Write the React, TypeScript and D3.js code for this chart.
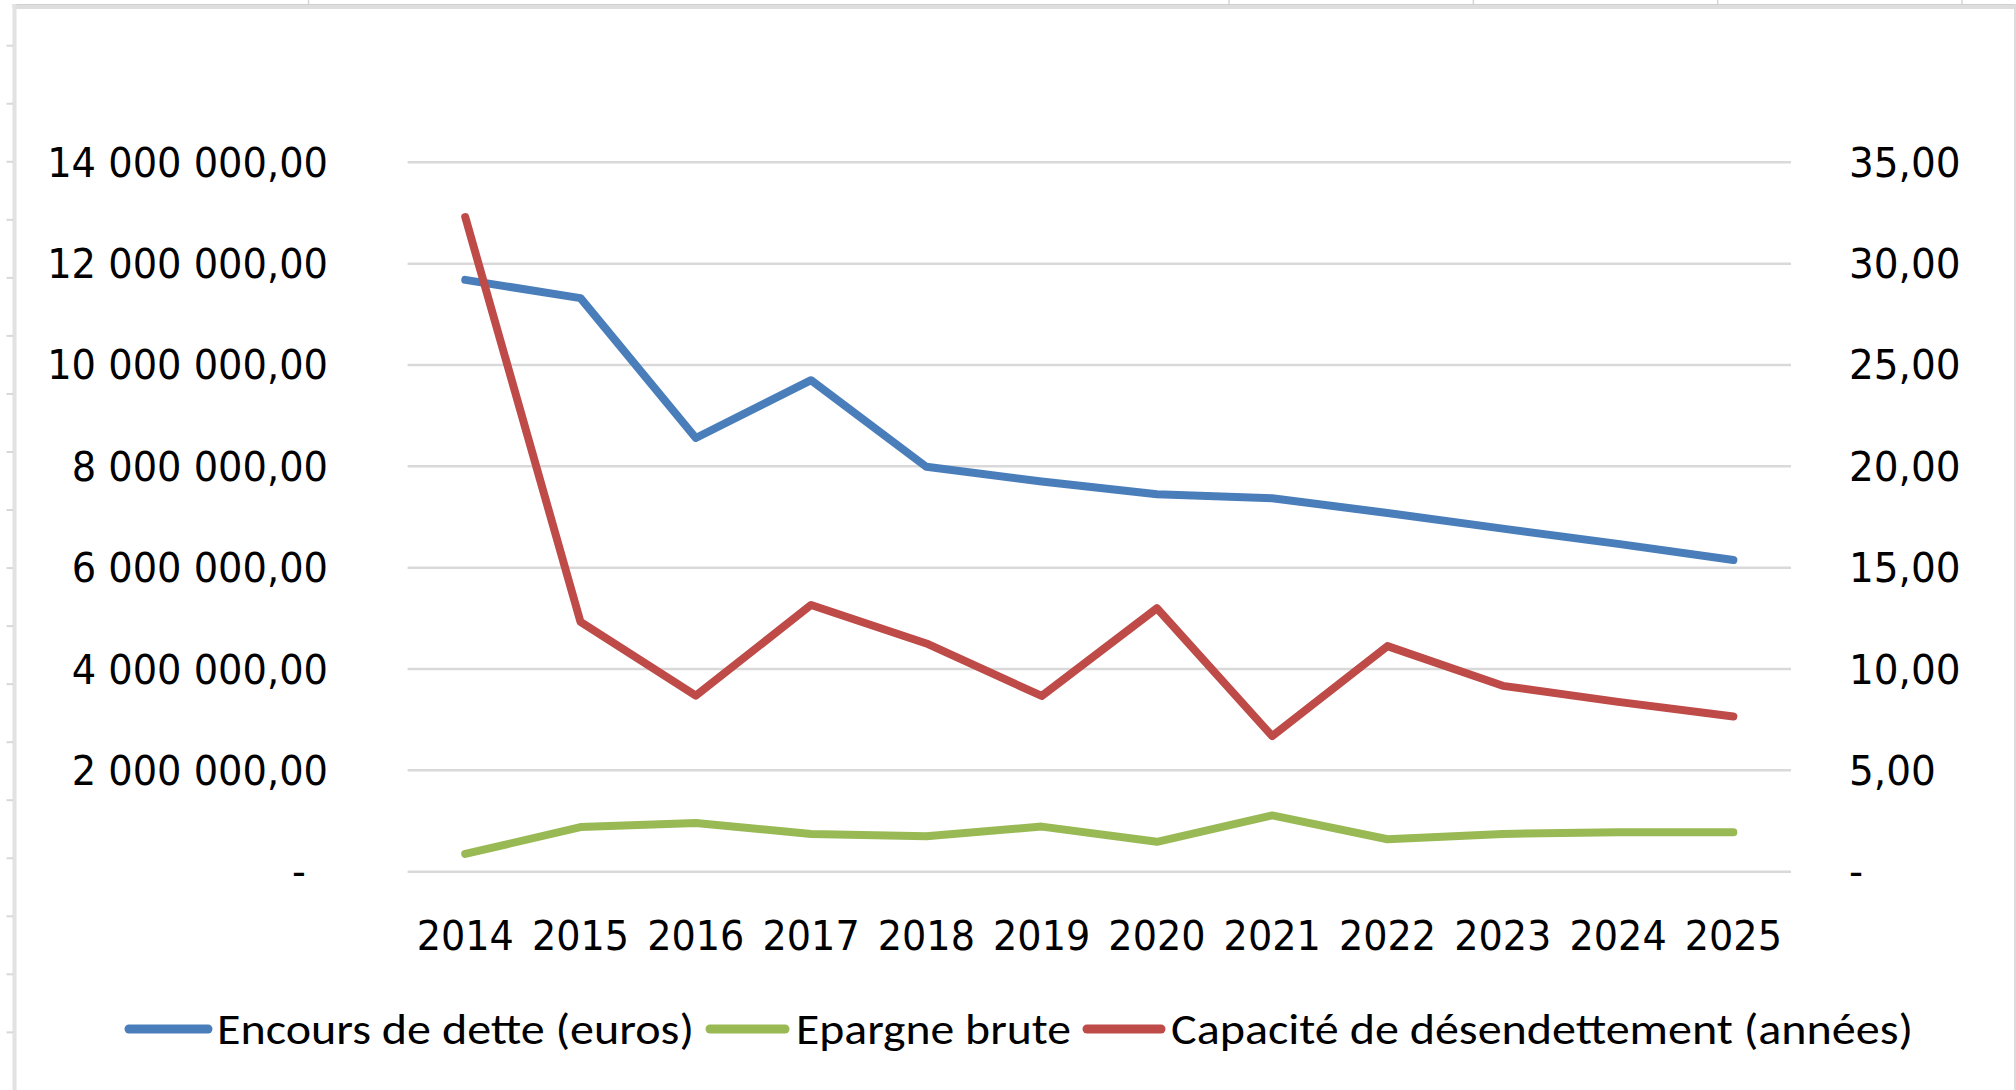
import React from "react";
import * as d3 from "d3";

const years = ["2014", "2015", "2016", "2017", "2018", "2019", "2020", "2021", "2022", "2023", "2024", "2025"];
const encoursDette = [11680000, 11320000, 8560000, 9700000, 7990000, 7700000, 7450000, 7370000, 7080000, 6770000, 6470000, 6150000];
const epargneBrute = [350000, 880000, 960000, 745000, 700000, 890000, 590000, 1110000, 640000, 745000, 780000, 780000];
const capaciteDesendettement = [32.3, 12.32, 8.69, 13.16, 11.26, 8.67, 13.0, 6.69, 11.13, 9.17, 8.38, 7.66];
const leftTicks = [0, 2000000, 4000000, 6000000, 8000000, 10000000, 12000000, 14000000];
const rightTicks = [0, 5, 10, 15, 20, 25, 30, 35];
const seriesNames = ["Encours de dette (euros)", "Epargne brute", "Capacité de désendettement (années)"];
const seriesColors = ["#4A7EBB", "#98B954", "#BE4B48"];

const W = 2016;
const H = 1090;
const PLOT = { left: 407.6, right: 1791, top: 162.3, bottom: 871.7 };

const fr = d3.formatLocale({ decimal: ",", thousands: " ", grouping: [3], currency: ["", " €"] });
const fmtLeft = fr.format(",.2f");
const fmtRight = fr.format(".2f");

export default function App() {
  const x = d3.scalePoint<string>().domain(years).range([PLOT.left, PLOT.right]).padding(0.5);
  const yL = d3.scaleLinear().domain([0, 14000000]).range([PLOT.bottom, PLOT.top]);
  const yR = d3.scaleLinear().domain([0, 35]).range([PLOT.bottom, PLOT.top]);

  const lineL = d3.line<number>().x((_, i) => x(years[i]) as number).y((d) => yL(d));
  const lineR = d3.line<number>().x((_, i) => x(years[i]) as number).y((d) => yR(d));

  const rowTicks = d3.range(45.7, H, 58.04);
  const colTicks = [308.5, 1229, 1473.4, 1717.7, 1962];

  const axisFont = "'DejaVu Sans', Verdana, sans-serif";
  const legendFont = "Carlito, 'Liberation Sans Narrow', 'Open Sans', sans-serif";

  const legendItems = [
    { x0: 125, x1: 212, tx: 217, tl: 477 },
    { x0: 706, x1: 789, tx: 796, tl: 275 },
    { x0: 1083, x1: 1165, tx: 1171, tl: 742 },
  ];

  return (
    <div style={{ position: "absolute", left: 0, top: 0, width: W, height: H, overflow: "hidden" }}>
      <svg width={W} height={H} style={{ display: "block", background: "#fff" }}>
        {/* spreadsheet frame */}
        <rect x={0} y={0} width={W} height={H} fill="#ffffff" />
        {colTicks.map((cx, i) => (
          <line key={"ct" + i} x1={cx} x2={cx} y1={0} y2={5} stroke="#d4d4d4" strokeWidth={1.5} />
        ))}
        <rect x={12.5} y={4} width={W - 12.5} height={5} fill="#dedede" />
        <line x1={12.5} x2={W} y1={4.5} y2={4.5} stroke="#d0d0d0" strokeWidth={1} />
        <rect x={12.5} y={4} width={4} height={H - 4} fill="#e2e2e2" />
        {rowTicks.map((ry, i) => (
          <line key={"rt" + i} x1={6.5} x2={13} y1={ry} y2={ry} stroke="#d8d8d8" strokeWidth={2} />
        ))}
        <line x1={2015} x2={2015} y1={4} y2={H} stroke="#dcdcdc" strokeWidth={2} />

        {/* gridlines */}
        {leftTicks.map((t) => (
          <line key={"g" + t} x1={PLOT.left} x2={PLOT.right} y1={yL(t)} y2={yL(t)} stroke="#d9d9d9" strokeWidth={2.5} />
        ))}

        {/* left axis labels */}
        {leftTicks.map((t) =>
          t === 0 ? (
            <text key={"l" + t} transform={`translate(${299},${yL(t) + 14.5}) scale(0.96,1)`} textAnchor="middle" fontFamily={axisFont} fontSize={40} fill="#000">-</text>
          ) : (
            <text key={"l" + t} transform={`translate(${328},${yL(t) + 14.5}) scale(0.96,1)`} textAnchor="end" fontFamily={axisFont} fontSize={40} fill="#000">
              {fmtLeft(t)}
            </text>
          )
        )}

        {/* right axis labels */}
        {rightTicks.map((t) => (
          <text key={"r" + t} transform={`translate(${1849},${yR(t) + 14.5}) scale(0.975,1)`} textAnchor="start" fontFamily={axisFont} fontSize={40} fill="#000">
            {t === 0 ? "-" : fmtRight(t)}
          </text>
        ))}

        {/* x axis labels */}
        {years.map((yr) => (
          <text key={"x" + yr} transform={`translate(${x(yr)},${950}) scale(0.955,1)`} textAnchor="middle" fontFamily={axisFont} fontSize={40} fill="#000">
            {yr}
          </text>
        ))}

        {/* series */}
        <path d={lineL(encoursDette) || ""} fill="none" stroke={seriesColors[0]} strokeWidth={8} strokeLinejoin="round" strokeLinecap="round" />
        <path d={lineL(epargneBrute) || ""} fill="none" stroke={seriesColors[1]} strokeWidth={8} strokeLinejoin="round" strokeLinecap="round" />
        <path d={lineR(capaciteDesendettement) || ""} fill="none" stroke={seriesColors[2]} strokeWidth={8} strokeLinejoin="round" strokeLinecap="round" />

        {/* legend */}
        {seriesNames.map((name, i) => {
          const it = legendItems[i];
          return (
            <g key={"lg" + i}>
              <line x1={it.x0 + 4} x2={it.x1 - 4} y1={1029} y2={1029} stroke={seriesColors[i]} strokeWidth={9} strokeLinecap="round" />
              <text x={it.tx} y={1043.5} fontFamily={legendFont} fontSize={44} fill="#000" textLength={it.tl} lengthAdjust="spacingAndGlyphs">
                {name}
              </text>
            </g>
          );
        })}
      </svg>
    </div>
  );
}
